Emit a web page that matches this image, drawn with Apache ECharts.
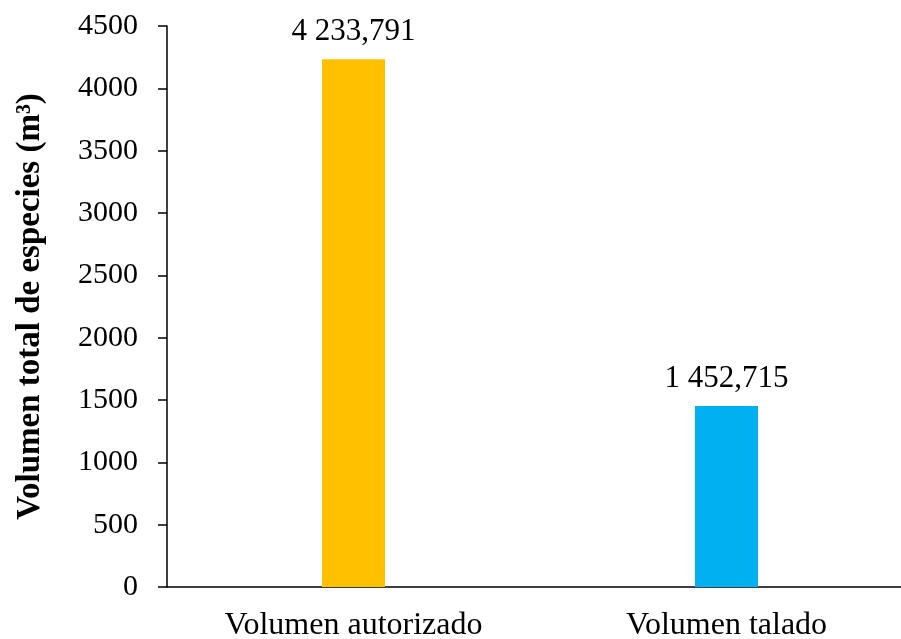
<!DOCTYPE html>
<html>
<head>
<meta charset="utf-8">
<script src="https://cdn.jsdelivr.net/npm/echarts@6/dist/echarts.min.js"></script>
<style>
  html, body { margin: 0; padding: 0; background: #fff; }
  #chart { width: 901px; height: 639px; }
</style>
</head>
<body>
<div id="chart"></div>
<script>
// Volume categories and their totals (m³)
const categories = ['Volumen autorizado', 'Volumen talado'];
const volumes = [4233.791, 1452.715];
const barColors = ['#FFC000', '#00B0F0'];
const yTicks = { min: 0, max: 4500, interval: 500 };

// Format as "4 233,791": space thousands separator, comma decimal
function fmt(v) {
  const parts = v.toFixed(3).split('.');
  const intPart = parts[0].replace(/\B(?=(\d{3})+(?!\d))/g, ' ');
  return intPart + ',' + parts[1];
}

const font = '"Liberation Serif", "Times New Roman", serif';
const chart = echarts.init(document.getElementById('chart'));
chart.setOption({
  backgroundColor: '#fff',
  animation: false,
  // plot area runs past the right edge of the canvas
  grid: { left: 167, width: 746, top: 26, height: 561, outerBoundsMode: 'none', containLabel: false },
  xAxis: {
    type: 'category',
    data: categories,
    axisLine: { lineStyle: { color: '#000', width: 1.5 } },
    axisTick: { show: false },
    axisLabel: { color: '#000', fontFamily: font, fontSize: 32, margin: 23 }
  },
  yAxis: {
    type: 'value',
    min: yTicks.min,
    max: yTicks.max,
    interval: yTicks.interval,
    name: 'Volumen total de especies (m³)',
    nameLocation: 'middle',
    nameGap: 120,
    nameTextStyle: { color: '#000', fontFamily: font, fontSize: 33, fontWeight: 'bold' },
    axisLine: { show: true, lineStyle: { color: '#000', width: 1.5 } },
    axisTick: { show: true, length: 9, lineStyle: { color: '#000', width: 1.5 } },
    splitLine: { show: false },
    axisLabel: { color: '#000', fontFamily: font, fontSize: 30, margin: 29, formatter: v => String(v) }
  },
  series: [{
    type: 'bar',
    barWidth: 63,
    data: volumes.map((v, i) => ({ value: v, itemStyle: { color: barColors[i] } })),
    label: {
      show: true,
      position: 'top',
      distance: 12,
      color: '#000',
      fontFamily: font,
      fontSize: 31,
      formatter: p => fmt(p.value)
    }
  }]
});
</script>
</body>
</html>
